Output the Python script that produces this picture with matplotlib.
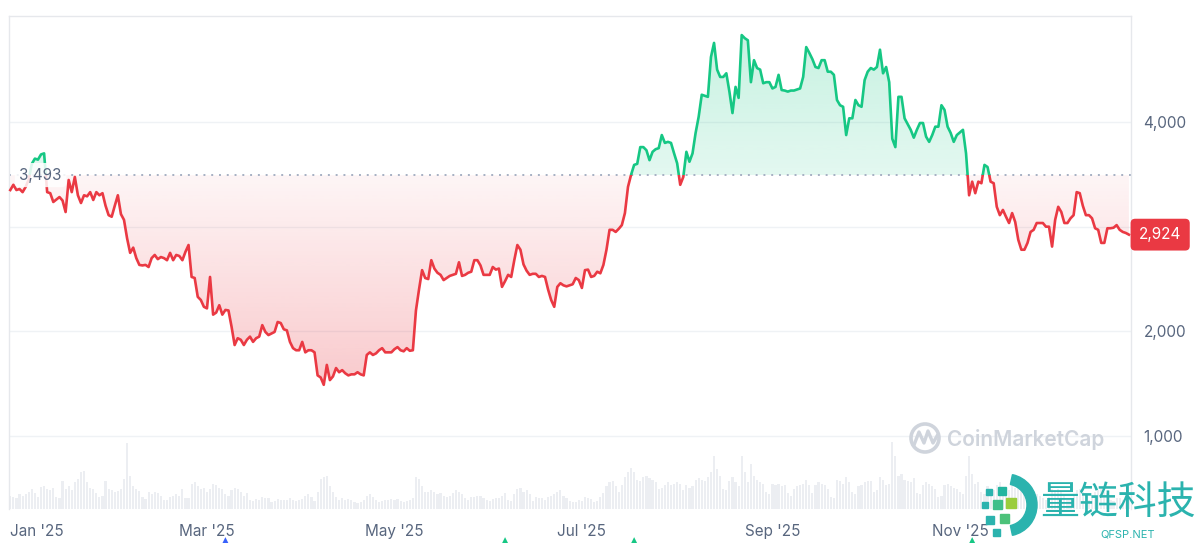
import numpy as np
import matplotlib
matplotlib.use("Agg")
import matplotlib.pyplot as plt
import matplotlib.dates as mdates
from matplotlib.colors import to_rgb
from matplotlib.patches import Circle, Wedge, Rectangle
from matplotlib.transforms import ScaledTranslation, blended_transform_factory

plt.rcParams['font.family'] = ['Inter', 'DejaVu Sans']

# ETH daily price (USD), 27 Dec 2024 -> 26 Dec 2025
start = '2024-12-27'
p_dec24 = [3350, 3400, 3350, 3360, 3330]
p_jan = [3380, 3450, 3600, 3650, 3640, 3690, 3700, 3330, 3320, 3236,
         3260, 3283, 3250, 3140, 3446, 3330, 3475, 3300, 3226, 3300,
         3290, 3330, 3255, 3330, 3300, 3320, 3200, 3110, 3095, 3200, 3300]
p_feb = [3120, 3065, 2890, 2750, 2800, 2700, 2635, 2630, 2635, 2615,
         2700, 2730, 2690, 2710, 2700, 2680, 2750, 2680, 2730, 2720,
         2680, 2760, 2825, 2520, 2510, 2330, 2300, 2235]
p_mar = [2220, 2520, 2160, 2180, 2250, 2160, 2205, 2200, 2045, 1870,
         1935, 1920, 1870, 1920, 1950, 1900, 1935, 1950, 2060, 1995,
         1965, 1980, 1995, 2090, 2080, 2020, 2010, 1900, 1840, 1820, 1820]
p_apr = [1900, 1800, 1820, 1820, 1800, 1580, 1560, 1490, 1680, 1535,
         1570, 1650, 1610, 1630, 1600, 1580, 1590, 1590, 1610, 1590,
         1580, 1775, 1800, 1775, 1790, 1820, 1840, 1800, 1800, 1800]
p_may = [1830, 1850, 1820, 1810, 1840, 1815, 1820, 2200, 2400, 2585,
         2510, 2500, 2680, 2600, 2560, 2540, 2490, 2510, 2530, 2540,
         2550, 2660, 2530, 2540, 2560, 2570, 2680, 2680, 2630, 2540, 2540]
p_jun = [2540, 2615, 2590, 2600, 2425, 2480, 2540, 2520, 2680, 2825,
         2780, 2640, 2580, 2540, 2550, 2550, 2520, 2530, 2520, 2400,
         2300, 2235, 2425, 2460, 2440, 2430, 2440, 2450, 2510, 2490]
p_jul = [2415, 2585, 2590, 2520, 2530, 2570, 2555, 2635, 2780, 2970,
         2970, 2950, 2980, 3015, 3130, 3380, 3495, 3590, 3600, 3760,
         3760, 3730, 3635, 3715, 3740, 3750, 3875, 3800, 3810, 3800, 3700]
p_aug = [3605, 3400, 3475, 3715, 3620, 3700, 3895, 4050, 4260, 4250,
         4240, 4620, 4755, 4500, 4430, 4430, 4465, 4290, 4085, 4335,
         4230, 4830, 4800, 4780, 4380, 4590, 4515, 4500, 4370, 4380, 4380]
p_sep = [4320, 4335, 4450, 4305, 4300, 4290, 4300, 4300, 4310, 4320,
         4430, 4715, 4660, 4600, 4525, 4515, 4590, 4590, 4480, 4480,
         4450, 4210, 4160, 4145, 3875, 4035, 4035, 4210, 4160, 4145]
p_oct = [4400, 4480, 4515, 4500, 4525, 4690, 4465, 4525, 4380, 3840,
         3760, 4240, 4240, 4035, 3980, 3925, 3850, 3925, 3990, 3990,
         3860, 3810, 3875, 3955, 3955, 4160, 4115, 3955, 3895, 3810, 3875]
p_nov = [3900, 3925, 3700, 3300, 3430, 3320, 3430, 3415, 3590, 3570,
         3430, 3415, 3190, 3110, 3160, 3095, 3035, 3130, 3045, 2875,
         2780, 2780, 2845, 2950, 2970, 3035, 3035, 3035, 3000, 3000]
p_dec = [2810, 3065, 3190, 3140, 3035, 3035, 3080, 3110, 3330, 3320,
         3200, 3110, 3110, 3080, 2985, 2970, 2845, 2845, 2985, 2985,
         2990, 3015, 2970, 2950, 2940, 2924]

# daily volume (billion USD)
v_dec24 = [20, 18, 16, 22, 20]
v_jan = [22, 25, 30, 24, 18, 33, 35, 30, 28, 32,
         18, 17, 42, 30, 35, 28, 40, 45, 55, 57,
         40, 32, 30, 24, 18, 20, 42, 30, 28, 26, 27]
v_feb = [30, 45, 99, 50, 35, 30, 27, 18, 15, 26,
         22, 25, 24, 20, 14, 13, 18, 20, 22, 20,
         30, 17, 16, 38, 40, 35, 30, 32]
v_mar = [25, 30, 38, 36, 32, 30, 22, 20, 28, 32,
         30, 25, 20, 24, 13, 12, 15, 14, 18, 17,
         16, 10, 12, 15, 14, 14, 13, 16, 13, 12, 14]
v_apr = [15, 20, 22, 18, 12, 25, 45, 48, 50, 35,
         25, 18, 14, 16, 14, 15, 13, 10, 9, 11,
         14, 20, 22, 18, 14, 11, 12, 14, 13, 15]
v_may = [14, 15, 12, 10, 12, 14, 16, 48, 45, 35,
         26, 25, 28, 26, 22, 24, 20, 18, 20, 24,
         28, 26, 22, 16, 14, 18, 18, 20, 19, 16, 14]
v_jun = [12, 15, 16, 16, 20, 24, 14, 12, 22, 30,
         32, 26, 28, 22, 12, 18, 16, 16, 14, 18,
         20, 22, 26, 28, 20, 16, 12, 10, 11, 14]
v_jul = [12, 18, 16, 15, 11, 12, 18, 24, 34, 40,
         42, 34, 26, 36, 48, 55, 62, 55, 44, 42,
         48, 50, 46, 44, 40, 30, 32, 36, 40, 36, 38]
v_aug = [40, 38, 28, 36, 32, 34, 44, 46, 44, 42,
         48, 55, 80, 60, 50, 30, 28, 42, 48, 40,
         34, 80, 56, 40, 68, 50, 44, 40, 38, 26, 22]
v_sep = [38, 36, 38, 34, 36, 24, 20, 30, 34, 36,
         38, 44, 36, 24, 36, 40, 38, 36, 30, 18,
         16, 44, 42, 38, 48, 40, 26, 22, 34, 36]
v_oct = [40, 42, 42, 26, 28, 48, 44, 36, 38, 100,
         80, 50, 52, 44, 42, 40, 46, 24, 22, 36,
         40, 38, 34, 30, 18, 20, 36, 38, 34, 32, 30]
v_nov = [26, 22, 50, 80, 52, 38, 40, 26, 22, 34,
         30, 28, 36, 40, 26, 20, 28, 36, 32, 40,
         44, 28, 20, 22, 26, 22, 20, 16, 14, 18]
v_dec = [30, 28, 30, 26, 20, 14, 14, 22, 28, 30,
         26, 24, 14, 16, 26, 28, 30, 26, 24, 14,
         12, 16, 16, 14, 12, 14]

open_price = 3493
last_price = 2924
price_ticks = [1000, 2000, 3000, 4000]
price_labels = ['1,000', '2,000', '', '4,000']  # 3,000 sits under the price tag
month_ticks = ['2025-01-01', '2025-03-01', '2025-05-01', '2025-07-01', '2025-09-01', '2025-11-01']
month_labels = ["Jan '25", "Mar '25", "May '25", "Jul '25", "Sep '25", "Nov '25"]
event_dates = ['2025-03-07', '2025-06-06', '2025-07-18', '2025-11-05']
event_colors = ['#3861fb', '#16c784', '#16c784', '#16c784']

price = np.array(p_dec24 + p_jan + p_feb + p_mar + p_apr + p_may + p_jun
                 + p_jul + p_aug + p_sep + p_oct + p_nov + p_dec, dtype=float)
volume = np.array(v_dec24 + v_jan + v_feb + v_mar + v_apr + v_may + v_jun
                  + v_jul + v_aug + v_sep + v_oct + v_nov + v_dec, dtype=float)
dates = np.datetime64(start) + np.arange(len(price))
x = mdates.date2num(dates)

RED = '#ea3943'
GREEN = '#16c784'
GREY = '#58667e'

fig = plt.figure(figsize=(12, 5.43), dpi=100)
rect = [9 / 1200, 34 / 543, 1122 / 1200, 493 / 543]

# volume bars behind the price
vax = fig.add_axes(rect)
vax.bar(x, volume, width=0.7, color='#eceef2', linewidth=0)
vax.set_ylim(0, 740)
vax.axis('off')

ax = fig.add_axes(rect, sharex=vax)
ax.patch.set_alpha(0)
ax.set_xlim(x[0] - 0.42, x[-1] + 0.68)
ax.set_ylim(304, 5012)

# gradient area between price and open price
poly = ax.fill_between(x, price, open_price, facecolor='none', edgecolor='none')
clip = poly.get_paths()[0]


def gradient(color, y0, y1, a0, a1):
    g = np.zeros((256, 1, 4))
    g[..., :3] = to_rgb(color)
    g[..., 3] = np.linspace(a0, a1, 256)[:, None]
    im = ax.imshow(g, extent=[x[0], x[-1], y0, y1], origin='lower',
                   aspect='auto', interpolation='bilinear', zorder=1)
    im.set_clip_path(clip, transform=ax.transData)


gradient(RED, price.min(), open_price, 0.27, 0.05)
gradient(GREEN, open_price, price.max(), 0.12, 0.24)

# price line, green above open, red below
for color, y0, y1 in [(GREEN, open_price, 10000), (RED, 0, open_price)]:
    ln, = ax.plot(x, price, color=color, lw=1.9, solid_joinstyle='round', zorder=3)
    ln.set_clip_path(Rectangle((x[0] - 5, y0), x[-1] - x[0] + 10, y1 - y0,
                               transform=ax.transData))

ax.axhline(open_price, color='#a6b0c3', lw=1.4, ls=(0, (1, 3)), zorder=2)

ax.set_yticks(price_ticks)
ax.set_yticklabels(price_labels)
ax.yaxis.tick_right()
ax.grid(axis='y', color='#eff2f5', lw=1)
ax.set_axisbelow(True)
ax.tick_params(axis='y', length=0, pad=9, labelsize=11, labelcolor=GREY)

ax.set_xticks(mdates.date2num(np.array(month_ticks, dtype='datetime64[D]')))
ax.set_xticklabels(month_labels)
ax.tick_params(axis='x', length=0, pad=10.5, labelsize=11, labelcolor=GREY)
first = ax.get_xticklabels()[0]
first.set_transform(first.get_transform() + ScaledTranslation(0.11, 0, fig.dpi_scale_trans))

ax.spines['bottom'].set_visible(False)
for s in ['top', 'left', 'right']:
    ax.spines[s].set_color('#e6e8ec')
    ax.spines[s].set_linewidth(1)

# price labels
ax.annotate(f'{last_price:,}', xy=(1, last_price), xycoords=('axes fraction', 'data'),
            xytext=(21, 0), textcoords='offset points', ha='center', va='center',
            color='white', fontsize=11, annotation_clip=False, zorder=10,
            bbox=dict(boxstyle='round,pad=0.55,rounding_size=0.3', fc=RED, ec='none'))
ax.annotate(f'{open_price:,}', xy=(0, open_price), xycoords=('axes fraction', 'data'),
            xytext=(7.5, 0), textcoords='offset points', ha='left', va='center',
            color=GREY, fontsize=11, zorder=10,
            bbox=dict(boxstyle='round,pad=0.3', fc='white', ec='none', alpha=0.85))

# event markers under the axis
tr = blended_transform_factory(ax.transData, ax.transAxes)
ax.scatter(mdates.date2num(np.array(event_dates, dtype='datetime64[D]')),
           [-0.068] * len(event_dates), marker='^', s=60, c=event_colors,
           transform=tr, clip_on=False, zorder=10, linewidths=0)

# watermarks
deco = fig.add_axes([0, 0, 1, 1], zorder=5)
deco.set_xlim(0, 1200)
deco.set_ylim(543, 0)
deco.axis('off')
deco.add_patch(Circle((925, 438), 14, fill=False, ec='#cfd4dc', lw=2.6))
deco.plot([914, 919, 924, 928, 933, 937], [445, 432, 443, 431, 443, 436],
          color='#cfd4dc', lw=2.4, solid_joinstyle='round')
deco.text(947, 439, 'CoinMarketCap', fontsize=15, fontweight='semibold',
          color='#cfd4dc', va='center', ha='left')

TEAL = '#2bb3ae'
deco.add_patch(Wedge((1006, 505), 31, -78, 78, width=10, color=TEAL))
for sx, sy, sz, c in [(986, 489, 6, TEAL), (998, 487, 8, '#22b59f'), (982, 502, 6, TEAL),
                      (993, 500, 9, '#3fbf8a'), (1006, 498, 10, '#9acd3c'),
                      (986, 516, 8, TEAL), (1000, 514, 9, '#4cc27a'), (993, 529, 7, TEAL)]:
    deco.add_patch(Rectangle((sx, sy), sz, sz, color=c))
deco.text(1118, 503, '量链科技', fontsize=28, color=TEAL, ha='center', va='center',
          family=['Noto Sans CJK SC', 'DejaVu Sans'])
deco.text(1128, 534, 'QFSP.NET', fontsize=8, color=TEAL, ha='center', va='center')

fig.savefig('out.png', dpi=100)
